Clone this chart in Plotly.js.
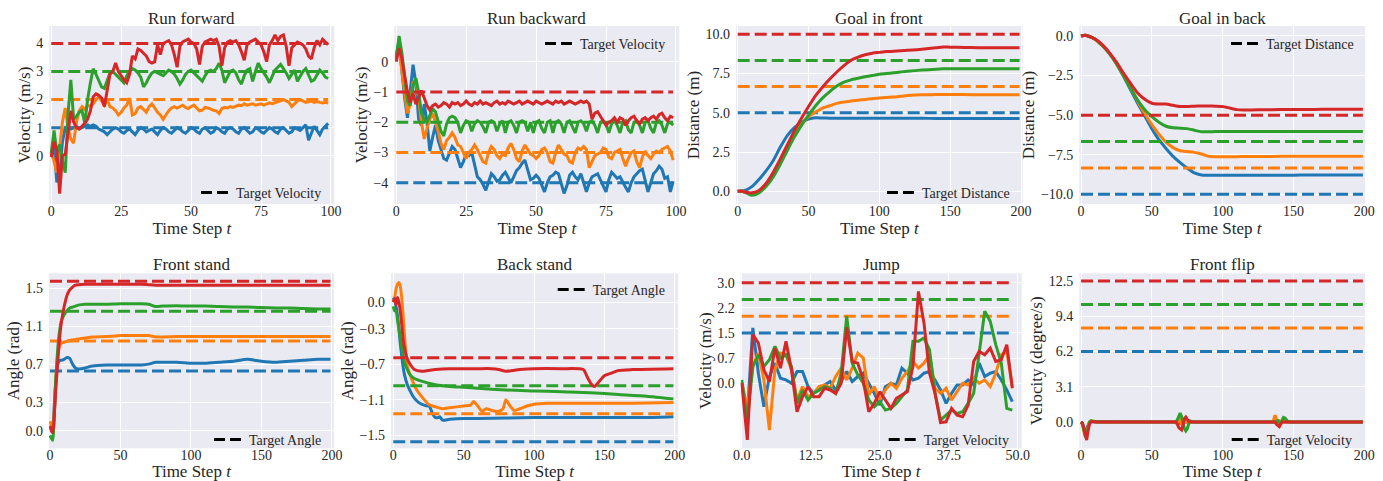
<!DOCTYPE html>
<html><head><meta charset="utf-8">
<script src="https://cdn.plot.ly/plotly-3.0.1.min.js"></script>
<style>html,body{margin:0;padding:0;background:#fff}#chart{width:1383px;height:481px}</style>
</head><body><div id="chart"></div>
<script>
// ---------------- DATA ----------------
const panelTitles = ['Run forward','Run backward','Goal in front','Goal in back','Front stand','Back stand','Jump','Front flip'];
const yAxisTitles = ['Velocity (m/s)','Velocity (m/s)','Distance (m)','Distance (m)','Angle (rad)','Angle (rad)','Velocity (m/s)','Velocity (degree/s)'];
const legendLabels = ['Target Velocity','Target Velocity','Target Distance','Target Distance','Target Angle','Target Angle','Target Velocity','Target Velocity'];

// Run forward (t = 0..99)
const runFwdBlue = [0.0,0.3,-0.95,-0.6,0.5,1.0,1.05,0.95,1.0,1.05,0.95,1.0,1.05,1.1,1.05,1.1,1.05,0.95,0.9,0.85,0.75,0.85,0.95,1.0,0.95,0.85,0.8,0.9,0.95,0.85,0.75,0.9,1.0,0.95,0.85,0.9,0.95,0.85,0.75,0.9,1.0,0.95,0.85,0.8,0.9,1.0,0.95,0.85,0.8,0.9,1.0,0.95,0.85,0.8,0.95,1.0,0.9,0.8,0.85,1.0,0.95,0.85,0.8,0.95,1.0,0.95,0.85,0.8,0.95,1.0,0.9,0.8,0.85,1.0,0.95,0.85,0.8,0.9,1.0,0.95,0.85,0.8,0.95,1.0,0.9,0.8,0.85,1.0,0.95,0.9,1.0,1.1,0.55,0.8,1.05,0.9,0.75,0.95,1.05,1.15];
const runFwdOrange = [0.1,-0.2,-0.6,0.3,1.2,1.7,1.0,0.6,0.45,1.2,1.6,1.75,1.65,1.8,1.75,1.85,2.0,2.1,1.95,1.8,2.0,1.75,1.7,1.6,1.45,1.55,1.7,1.8,2.05,1.45,1.5,1.7,1.75,1.65,1.55,1.75,1.85,1.7,1.55,1.45,1.3,1.45,1.6,1.7,1.75,1.7,1.75,1.8,1.72,1.68,1.75,1.8,1.7,1.6,1.62,1.72,1.7,1.65,1.62,1.6,1.5,1.68,1.72,1.7,1.75,1.72,1.75,1.8,1.78,1.85,1.8,1.82,1.85,1.8,1.83,1.85,1.8,1.85,1.88,1.85,1.9,1.92,1.95,2.0,1.95,1.9,1.75,1.85,1.95,2.0,1.95,1.9,1.92,1.95,1.9,1.93,1.9,1.88,1.9,1.88];
const runFwdGreen = [0.1,0.9,0.1,0.4,-0.2,-0.6,1.5,2.7,1.3,1.4,1.55,1.6,1.15,2.0,2.6,3.1,2.9,2.7,2.45,2.4,2.7,2.95,3.0,2.9,2.8,2.7,2.6,2.85,3.0,3.1,3.05,2.95,2.8,2.45,2.6,2.8,2.95,3.0,2.95,2.9,2.85,2.95,3.05,3.0,2.9,2.75,2.55,2.7,2.9,3.0,3.05,2.95,2.85,2.75,2.65,2.85,3.0,3.05,3.0,3.1,3.3,3.05,2.6,2.8,3.0,3.05,2.95,2.7,2.55,2.85,3.05,3.1,2.65,3.0,3.3,3.1,2.95,2.8,2.6,2.85,3.05,3.15,3.25,3.1,2.95,2.75,2.9,3.05,2.65,2.85,3.0,3.1,2.85,2.65,2.7,2.9,3.05,2.95,2.8,2.75];
const runFwdRed = [-0.05,0.5,0.2,-1.35,0.0,0.05,0.8,1.6,1.2,1.0,0.95,1.05,1.15,1.3,1.6,2.1,2.2,2.15,2.05,1.75,2.3,2.9,3.0,3.3,3.0,2.85,2.7,2.6,2.9,3.55,3.45,3.8,3.75,3.65,3.55,3.35,3.3,3.35,3.95,3.6,4.0,4.05,4.1,3.95,3.6,3.15,3.9,4.05,4.1,4.15,4.05,4.0,3.8,3.25,3.9,4.05,4.1,4.15,4.1,4.15,3.9,3.2,3.85,4.05,4.1,4.05,4.1,3.95,3.7,3.4,3.95,4.05,4.1,4.15,4.05,3.95,3.7,3.35,3.95,4.1,4.3,4.1,4.25,4.3,3.9,3.2,3.85,3.95,4.05,4.0,3.95,3.8,3.55,3.45,3.85,4.1,3.95,4.15,4.05,3.95];
const runFwdTargets = [1,2,3,4];

// Run backward (t = 0..99)
const runBwdBlue = [0.2,0.7,-0.3,-1.2,-1.85,-0.9,-0.1,-0.7,-1.9,-2.1,-1.4,-2.0,-2.95,-2.5,-2.1,-2.6,-2.9,-3.2,-3.25,-3.0,-2.8,-2.9,-3.2,-3.5,-3.3,-3.05,-3.1,-3.0,-3.4,-3.8,-3.9,-4.05,-4.25,-3.95,-3.7,-3.8,-3.95,-3.9,-3.75,-3.65,-3.85,-4.0,-3.8,-3.6,-3.5,-3.35,-3.25,-3.6,-3.9,-3.85,-3.75,-3.85,-4.05,-4.3,-4.0,-3.8,-3.75,-3.65,-3.7,-4.0,-4.35,-4.1,-3.75,-3.65,-3.8,-3.9,-3.7,-4.0,-4.3,-4.0,-3.8,-3.75,-3.7,-3.9,-4.1,-4.3,-3.9,-3.65,-3.75,-3.85,-3.8,-4.0,-4.15,-4.3,-4.0,-3.8,-3.7,-3.6,-3.55,-3.9,-4.3,-4.0,-3.7,-3.6,-3.45,-3.55,-3.85,-3.8,-4.3,-3.95];
const runBwdOrange = [0.1,0.6,-0.3,-1.1,-1.7,-1.4,-0.7,-0.6,-1.2,-2.0,-2.55,-2.2,-1.9,-1.7,-2.0,-2.3,-2.7,-2.9,-2.6,-2.5,-2.35,-2.5,-2.75,-2.8,-3.0,-3.2,-3.0,-2.9,-2.75,-2.9,-3.1,-3.3,-3.35,-3.0,-2.8,-2.9,-3.1,-3.2,-3.05,-3.1,-2.85,-2.7,-2.9,-3.2,-3.3,-2.95,-2.75,-2.9,-3.05,-3.1,-3.2,-3.1,-2.9,-2.85,-3.0,-3.3,-3.35,-3.0,-2.75,-2.9,-3.05,-3.1,-3.3,-3.35,-3.0,-2.85,-2.9,-2.8,-2.9,-3.5,-3.3,-3.1,-3.05,-3.0,-2.85,-2.9,-3.15,-3.2,-3.0,-2.95,-2.9,-3.2,-3.45,-3.2,-3.0,-2.95,-3.3,-3.5,-3.15,-2.95,-3.1,-3.2,-3.05,-2.95,-3.0,-2.9,-2.85,-2.8,-2.95,-3.25];
const runBwdGreen = [0.1,0.85,0.3,-0.6,-1.3,-1.45,-0.8,-0.55,-1.0,-1.7,-1.9,-2.0,-1.75,-1.55,-1.65,-2.0,-2.3,-2.45,-2.05,-1.85,-1.8,-1.85,-2.0,-2.35,-2.1,-1.95,-2.0,-2.3,-2.05,-1.95,-2.0,-2.15,-2.35,-2.0,-1.95,-2.0,-2.3,-2.05,-1.95,-2.35,-2.0,-1.95,-2.1,-2.35,-2.0,-1.95,-2.0,-2.3,-2.0,-2.35,-2.0,-1.95,-2.2,-2.35,-2.0,-1.95,-2.35,-2.0,-1.95,-2.05,-2.35,-2.0,-1.95,-2.15,-2.35,-2.0,-1.95,-2.05,-2.3,-2.0,-1.95,-2.1,-2.35,-2.0,-1.95,-2.05,-2.35,-2.05,-1.95,-2.1,-2.35,-2.0,-1.95,-2.25,-2.35,-2.0,-1.95,-2.1,-2.35,-2.0,-1.95,-2.2,-2.35,-2.0,-1.95,-2.1,-2.35,-2.05,-2.0,-2.1];
const runBwdRed = [0.0,0.45,0.1,-0.5,-1.0,-1.35,-1.05,-1.4,-1.15,-0.95,-1.2,-1.45,-1.6,-1.45,-1.4,-1.5,-1.45,-1.35,-1.4,-1.5,-1.35,-1.4,-1.35,-1.45,-1.4,-1.3,-1.4,-1.45,-1.35,-1.4,-1.3,-1.4,-1.35,-1.4,-1.45,-1.35,-1.3,-1.4,-1.35,-1.4,-1.3,-1.35,-1.4,-1.35,-1.3,-1.4,-1.35,-1.3,-1.35,-1.4,-1.3,-1.35,-1.4,-1.35,-1.3,-1.35,-1.4,-1.3,-1.35,-1.3,-1.4,-1.35,-1.3,-1.35,-1.4,-1.35,-1.3,-1.35,-1.3,-1.4,-1.9,-1.7,-1.65,-1.8,-1.95,-2.1,-2.0,-1.95,-1.85,-2.0,-1.85,-1.9,-2.1,-1.95,-1.85,-1.8,-1.95,-2.05,-1.9,-1.85,-1.95,-1.85,-1.8,-1.9,-1.75,-1.7,-1.85,-1.95,-1.8,-1.85];
const runBwdTargets = [-4,-3,-2,-1];

// Goal in front / Goal in back (sampled time steps)
const goalT = [0,3,5,10,15,20,25,30,35,40,45,50,55,60,65,70,75,80,85,90,95,100,105,110,115,120,130,140,145,150,160,170,180,190,199];
const goalFrontBlue = [0,0.02,0.05,0.3,0.75,1.3,1.95,2.8,3.55,4.05,4.4,4.6,4.68,4.67,4.66,4.65,4.65,4.65,4.65,4.65,4.65,4.65,4.65,4.65,4.65,4.65,4.65,4.64,4.64,4.64,4.64,4.64,4.63,4.63,4.63];
const goalFrontOrange = [0,0.0,-0.05,-0.15,0.0,0.45,1.1,1.95,2.85,3.65,4.25,4.75,5.05,5.3,5.45,5.6,5.68,5.75,5.8,5.85,5.9,5.95,5.98,6.0,6.05,6.1,6.15,6.16,6.17,6.16,6.16,6.15,6.15,6.15,6.15];
const goalFrontGreen = [0,0.0,-0.05,-0.25,-0.1,0.3,0.9,1.7,2.6,3.45,4.2,4.85,5.45,5.95,6.35,6.7,6.95,7.1,7.2,7.3,7.38,7.45,7.5,7.55,7.6,7.65,7.72,7.78,7.8,7.8,7.8,7.8,7.8,7.8,7.8];
const goalFrontRed = [0,0.02,-0.05,-0.1,0.05,0.5,1.2,2.05,2.95,3.85,4.65,5.4,6.1,6.65,7.15,7.6,8.0,8.35,8.55,8.7,8.8,8.85,8.9,8.92,8.95,8.98,9.05,9.15,9.2,9.18,9.16,9.15,9.15,9.15,9.15];
const goalFrontTargets = [5,6.67,8.33,10];
const goalBackBlue = [0,0.05,0.0,-0.2,-0.6,-1.1,-1.75,-2.55,-3.4,-4.25,-5.05,-5.85,-6.55,-7.1,-7.6,-8.0,-8.35,-8.65,-8.78,-8.8,-8.8,-8.8,-8.8,-8.8,-8.8,-8.8,-8.8,-8.79,-8.79,-8.79,-8.78,-8.78,-8.78,-8.78,-8.78];
const goalBackOrange = [0,0.05,0.0,-0.2,-0.6,-1.1,-1.75,-2.5,-3.3,-4.1,-4.9,-5.6,-6.2,-6.7,-7.05,-7.25,-7.3,-7.35,-7.45,-7.6,-7.62,-7.62,-7.62,-7.62,-7.61,-7.61,-7.61,-7.6,-7.6,-7.6,-7.6,-7.6,-7.6,-7.6,-7.6];
const goalBackGreen = [0,0.05,0.0,-0.2,-0.6,-1.1,-1.75,-2.5,-3.3,-4.05,-4.65,-5.1,-5.45,-5.7,-5.8,-5.82,-5.85,-5.95,-6.05,-6.05,-6.03,-6.03,-6.03,-6.03,-6.03,-6.03,-6.03,-6.03,-6.03,-6.03,-6.03,-6.03,-6.03,-6.03,-6.03];
const goalBackRed = [0,0.05,0.0,-0.2,-0.55,-1.05,-1.65,-2.35,-3.0,-3.6,-4.0,-4.25,-4.3,-4.3,-4.38,-4.45,-4.45,-4.43,-4.42,-4.42,-4.43,-4.45,-4.55,-4.65,-4.68,-4.67,-4.66,-4.65,-4.65,-4.64,-4.64,-4.63,-4.63,-4.63,-4.63];
const goalBackTargets = [-10,-8.33,-6.67,-5];

// Front stand (sampled time steps)
const frontStandT = [0,1,2,3,4,5,6,7,8,10,12,14,16,18,20,25,30,40,50,60,65,70,75,80,90,100,110,120,130,140,150,160,170,180,190,199];
const frontStandBlue = [0.05,0.02,0.0,0.25,0.5,0.65,0.72,0.74,0.74,0.75,0.77,0.76,0.7,0.66,0.65,0.66,0.68,0.69,0.69,0.69,0.69,0.7,0.72,0.72,0.72,0.71,0.71,0.72,0.73,0.75,0.73,0.72,0.73,0.74,0.75,0.75];
const frontStandOrange = [0.1,0.05,0.0,0.2,0.5,0.72,0.85,0.9,0.92,0.93,0.94,0.95,0.955,0.96,0.965,0.975,0.985,0.99,1.0,1.0,1.0,1.0,0.985,0.985,0.99,0.99,0.99,0.99,0.99,0.99,0.99,0.99,0.99,0.99,0.99,0.99];
const frontStandGreen = [-0.05,-0.08,-0.1,0.15,0.5,0.75,0.95,1.07,1.15,1.22,1.26,1.29,1.3,1.31,1.32,1.33,1.33,1.33,1.335,1.335,1.335,1.33,1.305,1.31,1.315,1.31,1.31,1.305,1.3,1.3,1.295,1.29,1.29,1.285,1.28,1.28];
const frontStandRed = [0.05,0.0,-0.02,0.15,0.4,0.62,0.82,1.0,1.13,1.3,1.42,1.48,1.51,1.53,1.535,1.54,1.54,1.54,1.54,1.54,1.54,1.535,1.53,1.53,1.53,1.53,1.53,1.53,1.53,1.53,1.53,1.53,1.53,1.53,1.53,1.53];
const frontStandTargets = [0.628,0.942,1.257,1.571];

// Back stand (sampled time steps per series)
const backStandBlueT = [0,1,2,3,4,5,6,7,8,10,12,14,16,18,20,22,24,25,26,28,30,32,33,35,40,50,60,80,100,120,140,160,180,199];
const backStandBlue = [0.05,0.02,-0.05,-0.15,-0.3,-0.47,-0.6,-0.73,-0.82,-0.93,-1.0,-1.06,-1.1,-1.13,-1.15,-1.16,-1.17,-1.16,-1.18,-1.26,-1.3,-1.3,-1.29,-1.33,-1.32,-1.31,-1.31,-1.305,-1.3,-1.3,-1.3,-1.3,-1.3,-1.29];
const backStandOrangeT = [0,1,2,3,4,5,6,7,8,10,12,14,16,18,20,25,30,35,40,50,55,57,60,63,66,70,75,78,80,83,86,90,95,100,110,140,170,199];
const backStandOrange = [0.0,0.05,0.15,0.2,0.22,0.18,0.05,-0.15,-0.38,-0.72,-0.82,-0.9,-0.97,-1.02,-1.06,-1.15,-1.18,-1.2,-1.19,-1.17,-1.16,-1.12,-1.17,-1.23,-1.2,-1.22,-1.23,-1.2,-1.1,-1.17,-1.22,-1.2,-1.17,-1.15,-1.14,-1.14,-1.14,-1.13];
const backStandGreenT = [0,1,2,3,5,7,8,10,12,15,20,30,40,50,60,80,100,120,140,160,180,199];
const backStandGreen = [-0.05,-0.1,-0.1,-0.2,-0.4,-0.6,-0.68,-0.76,-0.82,-0.86,-0.89,-0.93,-0.95,-0.96,-0.97,-0.99,-1.0,-1.01,-1.02,-1.04,-1.06,-1.09];
const backStandRedT = [0,1,2,3,4,5,6,7,8,10,12,15,20,25,30,40,50,60,70,75,80,85,90,100,120,135,138,141,143,146,150,155,160,170,199];
const backStandRed = [0.0,0.04,-0.03,0.05,0.0,-0.1,-0.25,-0.42,-0.52,-0.64,-0.7,-0.76,-0.78,-0.77,-0.76,-0.75,-0.75,-0.75,-0.75,-0.76,-0.78,-0.77,-0.76,-0.75,-0.75,-0.76,-0.85,-0.93,-0.95,-0.9,-0.83,-0.8,-0.77,-0.76,-0.75];
const backStandTargets = [-1.571,-1.257,-0.942,-0.628];

// Jump (t = 0..49)
const jumpBlue = [0.0,-0.9,1.65,0.3,-0.7,0.2,0.6,0.15,0.1,0.0,0.35,0.35,-0.1,-0.3,-0.2,-0.05,0.05,-0.2,0.05,0.35,0.05,0.2,0.3,0.0,-0.3,-0.65,-0.1,0.0,-0.05,0.45,0.3,0.1,0.15,0.3,0.35,0.1,-0.2,-0.6,-0.3,-0.05,-0.05,0.1,-0.05,0.6,0.2,0.3,0.35,0.1,-0.2,-0.55];
const jumpOrange = [0.0,-0.7,0.5,0.9,0.1,-1.4,0.4,0.9,0.85,0.4,-0.5,-0.1,-0.4,-0.3,-0.1,-0.05,-0.15,0.2,0.45,0.1,0.45,0.9,0.75,-0.35,-0.1,-0.5,-0.2,0.0,-0.15,0.15,0.35,0.65,0.45,0.6,0.85,-0.15,-0.3,-0.15,-0.5,-0.25,0.0,-0.05,0.15,0.0,0.1,-0.1,0.3,0.85,0.95,-0.1];
const jumpGreen = [0.1,-1.1,0.5,0.85,0.5,0.7,1.1,0.75,0.85,0.5,-0.6,-0.2,-0.5,-0.3,-0.2,-0.1,-0.15,-0.3,0.3,2.0,0.6,0.25,0.0,-0.5,-0.7,-0.55,-0.8,-0.75,-0.6,-0.4,-0.2,1.25,1.25,1.35,1.0,-0.3,-1.1,-0.95,-0.8,-0.9,-0.85,-0.6,-0.3,0.9,2.15,1.85,1.15,0.6,-0.75,-0.8];
const jumpRed = [0.0,-1.69,1.45,1.2,0.4,0.05,1.05,0.45,1.25,0.4,-0.85,-0.4,-0.1,-0.4,-0.4,-0.15,-0.2,-0.3,0.0,1.67,0.65,0.6,0.1,-0.85,-0.6,-0.25,-0.5,-0.75,-0.45,-0.35,-0.25,0.5,2.74,1.8,0.3,-0.3,-1.17,-1.15,-0.75,-0.95,-1.0,-0.65,0.65,0.95,0.85,1.05,0.65,0.7,1.15,-0.15];
const jumpTargets = [1.5,2.0,2.5,3.0];

// Front flip (sampled time steps per series)
const frontFlipBlueT = [0,1,2,3,4,5,6,7,8,10,12,60,68,69,70,71,72,74,130,137,138,139,140,141,142,144,199];
const frontFlipBlue = [0,-0.1,-0.6,-1.0,-0.6,-0.2,0.0,0.05,0.05,0.0,0.0,0.0,0.0,0.1,-0.1,0.05,0.0,0.0,0.0,0.0,0.1,0.0,-0.1,0.0,0.05,0.0,0.0];
const frontFlipOrangeT = [0,1,2,3,4,5,6,7,8,10,12,60,67,68,69,70,71,72,73,74,76,130,135,136,137,138,139,140,141,142,143,144,146,199];
const frontFlipOrange = [0,-0.2,-0.8,-1.3,-0.9,-0.3,0.0,0.1,0.05,0.0,0.0,0.0,0.0,-0.2,0.2,0.3,-0.2,-0.3,0.1,0.0,0.0,0.0,0.0,0.2,0.6,0.2,-0.3,-0.4,0.0,0.2,0.1,0.0,0.0,0.0];
const frontFlipGreenT = [0,1,2,3,4,5,6,7,8,10,12,60,67,68,69,70,71,72,73,74,75,76,77,78,80,130,137,138,139,140,141,142,143,144,145,146,148,199];
const frontFlipGreen = [0,-0.15,-0.7,-1.2,-1.1,-0.4,0.0,0.1,0.1,0.05,0.0,0.0,0.0,0.2,0.6,0.8,0.5,-0.2,-0.6,-0.8,-0.6,-0.2,0.1,0.05,0.0,0.0,0.0,-0.1,0.2,0.0,-0.2,0.1,0.4,0.35,0.2,0.05,0.0,0.0];
const frontFlipRedT = [0,1,2,3,4,5,6,7,8,10,12,60,67,68,69,70,71,72,73,74,75,76,78,130,137,138,139,140,141,142,144,199];
const frontFlipRed = [0,-0.1,-0.5,-1.1,-1.6,-0.8,-0.2,0.0,0.05,0.0,0.0,0.0,0.0,-0.2,-0.5,-0.6,-0.7,-0.3,0.3,0.45,0.25,0.05,0.0,0.0,0.0,-0.2,-0.35,-0.4,-0.2,0.0,0.0,0.0];
const frontFlipTargets = [6.25,8.33,10.42,12.5];

// Tick labels
const xTicks100 = [0,25,50,75,100];
const xTicks200 = [0,50,100,150,200];
const xTicksJump = [0,12.5,25,37.5,50];
const xTickTextJump = ['0.0','12.5','25.0','37.5','50.0'];
const yTicksRunFwd = [0,1,2,3,4];
const yTicksRunBwd = [0,-1,-2,-3,-4];
const yTicksGoalFront = [0,2.5,5,7.5,10];
const yTickTextGoalFront = ['0.0','2.5','5.0','7.5','10.0'];
const yTicksGoalBack = [0,-2.5,-5,-7.5,-10];
const yTickTextGoalBack = ['0.0','\u22122.5','\u22125.0','\u22127.5','\u221210.0'];
const yTicksFrontStand = [0,0.3,0.7,1.1,1.5];
const yTickTextFrontStand = ['0.0','0.3','0.7','1.1','1.5'];
const yTicksBackStand = [0,-0.3,-0.7,-1.1,-1.5];
const yTickTextBackStand = ['0.0','\u22120.3','\u22120.7','\u22121.1','\u22121.5'];
const yTicksJump = [0,0.75,1.5,2.25,3];
const yTickTextJump = ['0.0','0.7','1.5','2.2','3.0'];
const yTicksFrontFlip = [0,3.125,6.25,9.375,12.5];
const yTickTextFrontFlip = ['0.0','3.1','6.2','9.4','12.5'];

// ---------------- BUILD ----------------
const idx = a => a.map((_, i) => i);
const COLORS = ['#1f77b4','#ff7f0e','#2ca02c','#d62728'];
const FONT = '"Liberation Serif", "Times New Roman", serif';
const TXT = '#262626';
const W = 1383, H = 481;

const panels = [
  {series:[[idx(runFwdBlue),runFwdBlue],[idx(runFwdOrange),runFwdOrange],[idx(runFwdGreen),runFwdGreen],[idx(runFwdRed),runFwdRed]], targets:runFwdTargets,
   xr:[-0.7,101.2], yr:[-1.72,4.62], xt:xTicks100, yt:yTicksRunFwd, dom:[49.3,334.3], row:0, leg:[201,193], shape:'linear'},
  {series:[[idx(runBwdBlue),runBwdBlue],[idx(runBwdOrange),runBwdOrange],[idx(runBwdGreen),runBwdGreen],[idx(runBwdRed),runBwdRed]], targets:runBwdTargets,
   xr:[-0.7,101.2], yr:[-4.7,1.18], xt:xTicks100, yt:yTicksRunBwd, dom:[394.3,679.3], row:0, leg:[545,44], shape:'linear'},
  {series:[[goalT,goalFrontBlue],[goalT,goalFrontOrange],[goalT,goalFrontGreen],[goalT,goalFrontRed]], targets:goalFrontTargets,
   xr:[-1.2,201.2], yr:[-0.81,10.53], xt:xTicks200, yt:yTicksGoalFront, ytt:yTickTextGoalFront, dom:[736,1022.7], row:0, leg:[887,193], shape:'spline'},
  {series:[[goalT,goalBackBlue],[goalT,goalBackOrange],[goalT,goalBackGreen],[goalT,goalBackRed]], targets:goalBackTargets,
   xr:[-1.2,200.5], yr:[-10.61,0.63], xt:xTicks200, yt:yTicksGoalBack, ytt:yTickTextGoalBack, dom:[1079.3,1365], row:0, leg:[1231,44], shape:'spline'},
  {series:[[frontStandT,frontStandBlue],[frontStandT,frontStandOrange],[frontStandT,frontStandGreen],[frontStandT,frontStandRed]], targets:frontStandTargets,
   xr:[-0.7,201.5], yr:[-0.185,1.655], xt:xTicks200, yt:yTicksFrontStand, ytt:yTickTextFrontStand, dom:[49,334], row:1, leg:[214,440], shape:'spline'},
  {series:[[backStandBlueT,backStandBlue],[backStandOrangeT,backStandOrange],[backStandGreenT,backStandGreen],[backStandRedT,backStandRed]], targets:backStandTargets,
   xr:[-1.6,202.5], yr:[-1.646,0.323], xt:xTicks200, yt:yTicksBackStand, ytt:yTickTextBackStand, dom:[391,678.3], row:1, leg:[557.7,290], shape:'spline'},
  {series:[[idx(jumpBlue),jumpBlue],[idx(jumpOrange),jumpOrange],[idx(jumpGreen),jumpGreen],[idx(jumpRed),jumpRed]], targets:jumpTargets,
   xr:[-0.2,50.7], yr:[-1.94,3.28], xt:xTicksJump, xtt:xTickTextJump, yt:yTicksJump, ytt:yTickTextJump, dom:[740.7,1021.7], row:1, leg:[888.7,440], shape:'linear'},
  {series:[[frontFlipBlueT,frontFlipBlue],[frontFlipOrangeT,frontFlipOrange],[frontFlipGreenT,frontFlipGreen],[frontFlipRedT,frontFlipRed]], targets:frontFlipTargets,
   xr:[-1.2,200.5], yr:[-2.33,13.18], xt:xTicks200, yt:yTicksFrontFlip, ytt:yTickTextFrontFlip, dom:[1079.3,1365], row:1, leg:[1231.7,440], shape:'linear'}
];
const rowsPx = [[26,204],[273.3,448.3]];
const titleYPx = [18,264];

const traces = [];
const layout = {
  width: W, height: H, margin:{l:0,r:0,t:0,b:0},
  paper_bgcolor:'#ffffff', plot_bgcolor:'#EAEAF2',
  font:{family:FONT, color:TXT, size:14},
  showlegend:true, annotations:[]
};

panels.forEach((p, k) => {
  const n = k + 1;
  const xa = n === 1 ? 'x' : 'x' + n;
  const ya = n === 1 ? 'y' : 'y' + n;
  const legId = n === 1 ? 'legend' : 'legend' + n;
  p.series.forEach((s, i) => {
    traces.push({type:'scatter', mode:'lines', x:s[0], y:s[1], xaxis:xa, yaxis:ya,
      line:{color:COLORS[i], width:3, shape:p.shape, smoothing:0.6}, showlegend:false, hoverinfo:'skip'});
    const xs = s[0];
    traces.push({type:'scatter', mode:'lines', x:[xs[0], xs[xs.length-1]], y:[p.targets[i], p.targets[i]], xaxis:xa, yaxis:ya,
      line:{color:COLORS[i], width:3, dash:'12px,5px'}, showlegend:false, hoverinfo:'skip'});
  });
  traces.push({type:'scatter', mode:'lines', x:[null], y:[null], xaxis:xa, yaxis:ya, name:legendLabels[k],
    line:{color:'#000000', width:3, dash:'11px,5px'}, showlegend:true, legend:legId});

  const rp = rowsPx[p.row];
  const axBase = {showgrid:true, gridcolor:'#ffffff', gridwidth:1.2, zeroline:false, showline:false, ticks:'',
    tickfont:{family:FONT, size:14, color:TXT}, fixedrange:true};
  const xaxis = Object.assign({}, axBase, {
    domain:[p.dom[0]/W, p.dom[1]/W], range:p.xr, anchor:ya, tickmode:'array', tickvals:p.xt,
    ticktext: p.xtt || p.xt.map(String), ticklabelstandoff:-3,
    title:{text:'Time Step <i>t</i>', font:{family:FONT, size:17, color:TXT}, standoff:1}
  });
  const yaxis = Object.assign({}, axBase, {
    domain:[1 - rp[1]/H, 1 - rp[0]/H], range:p.yr, anchor:xa, tickmode:'array', tickvals:p.yt,
    ticktext: p.ytt || p.yt.map(v => v < 0 ? '\u2212' + Math.abs(v) : String(v)), ticklabelstandoff:5,
    title:{text:yAxisTitles[k], font:{family:FONT, size:17, color:TXT}, standoff:1}
  });
  layout[n === 1 ? 'xaxis' : 'xaxis' + n] = xaxis;
  layout[n === 1 ? 'yaxis' : 'yaxis' + n] = yaxis;
  layout[legId] = {x:(p.leg[0] - 5)/W, y:1 - p.leg[1]/H, xanchor:'left', yanchor:'middle',
    bgcolor:'rgba(0,0,0,0)', borderwidth:0, font:{family:FONT, size:14, color:TXT}, itemwidth:30};
  layout.annotations.push({text:panelTitles[k], xref:'paper', yref:'paper', x:(p.dom[0]+p.dom[1])/2/W,
    y:1 - titleYPx[p.row]/H, xanchor:'center', yanchor:'middle', showarrow:false,
    font:{family:FONT, size:17, color:TXT}});
});

Plotly.newPlot('chart', traces, layout, {displayModeBar:false, responsive:false});
</script>
</body></html>
